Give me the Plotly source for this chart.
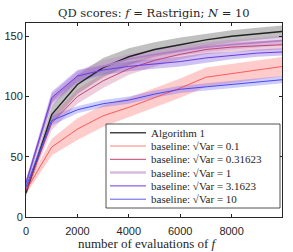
import plotly.graph_objects as go

evals = [0, 1000, 2000, 3000, 4000, 5000, 6000, 7000, 8000, 9000, 10000]

names = ["Algorithm 1",
         "baseline: √Var = 0.1",
         "baseline: √Var = 0.31623",
         "baseline: √Var = 1",
         "baseline: √Var = 3.1623",
         "baseline: √Var = 10"]

alg1 = [20, 85, 110, 124, 133, 139, 143, 147, 150, 152, 154]
var01 = [22, 58, 73, 84, 91, 99, 107, 116, 119, 122, 125]
var03 = [22, 78, 100, 113, 123, 130, 135, 139, 141, 142, 143]
var1 = [28, 97, 116, 125, 131, 135, 138, 141, 143, 145, 146.5]
var3 = [28, 99, 117, 122, 125, 127, 129, 132, 134, 136, 137]
var10 = [25, 80, 89, 94, 97, 102, 106, 108, 110.5, 112, 114]

spread_alg1 = [3, 7, 8, 8, 7, 6, 6, 5, 5, 5, 5]
spread_var01 = [3, 7, 9, 9, 8, 8, 8, 8, 8, 8, 8]
spread_var03 = [3, 6, 6, 6, 5, 5, 4, 4, 4, 4, 4]
spread_var1 = [3, 5, 5, 5, 4, 4, 4, 4, 4, 4, 4]
spread_var3 = [3, 5, 5, 4, 4, 4, 4, 4, 3, 3, 3]
spread_var10 = [3, 4, 3, 3, 3, 3, 3, 3, 3, 3, 3]

means = [alg1, var01, var03, var1, var3, var10]
spreads = [spread_alg1, spread_var01, spread_var03, spread_var1, spread_var3, spread_var10]
line_colors = ["#222222", "#ff4d4d", "#b83a6a", "#b480c8", "#6a3ce0", "#4848f0"]
legend_colors = ["#444444", "#ff8080", "#c04070", "#d8bce0", "#6a3ce0", "#5a5af0"]
band_colors = ["rgba(140,140,140,0.55)", "rgba(255,110,110,0.35)", "rgba(200,90,140,0.3)",
               "rgba(190,130,200,0.35)", "rgba(120,80,220,0.35)", "rgba(90,90,255,0.3)"]
widths = [1.4, 0.9, 0.9, 1.8, 1.0, 1.0]
legend_widths = [1.6, 1.0, 1.0, 2.5, 1.0, 1.0]

fig = go.Figure()
for m, s, bc in zip(means, spreads, band_colors):
    up = [a + b for a, b in zip(m, s)]
    lo = [a - b for a, b in zip(m, s)]
    fig.add_trace(go.Scatter(x=evals + evals[::-1], y=up + lo[::-1], fill="toself",
                             fillcolor=bc, line=dict(width=0), mode="lines",
                             showlegend=False, hoverinfo="skip"))
for m, n, lc, w in zip(means, names, line_colors, widths):
    fig.add_trace(go.Scatter(x=evals, y=m, mode="lines", name=n, showlegend=False,
                             line=dict(color=lc, width=w)))

# plot area in window pixels: x 26..282, y 23..217
W, H, L, B = 256.0, 194.0, 26.0, 217.0
def px_x(p):
    return (p - L) / W
def px_y(p):
    return (B - p) / H

shapes = [dict(type="rect", xref="paper", yref="paper",
               x0=px_x(106), x1=px_x(280), y0=px_y(208), y1=px_y(124),
               line=dict(color="#262626", width=0.8), fillcolor="white", layer="above")]
annotations = []
for i, (n, lc, lw) in enumerate(zip(names, legend_colors, legend_widths)):
    yc = px_y(132.7 + 13.3 * i)
    shapes.append(dict(type="line", xref="paper", yref="paper",
                       x0=px_x(110), x1=px_x(146), y0=yc, y1=yc,
                       line=dict(color=lc, width=lw), layer="above"))
    annotations.append(dict(text=n, xref="paper", yref="paper", x=px_x(149), y=yc,
                            xanchor="left", yanchor="middle", showarrow=False,
                            font=dict(family="Liberation Serif, DejaVu Serif", size=11,
                                      color="#262626")))

serif = "Liberation Serif, DejaVu Serif"
annotations.append(dict(text="number of evaluations of <i>f</i>", xref="paper", yref="paper",
                        x=px_x(148), y=px_y(243), xanchor="center", yanchor="middle",
                        showarrow=False, font=dict(family=serif, size=13, color="#262626")))
annotations.append(dict(text="QD scores: <i>f</i> = Rastrigin; <i>N</i> = 10", xref="paper",
                        yref="paper", x=px_x(153.5), y=px_y(13), xanchor="center",
                        yanchor="middle", showarrow=False,
                        font=dict(family="DejaVu Serif", size=11.5, color="#262626")))

axis_common = dict(showline=True, linecolor="#262626", linewidth=1, mirror="ticks",
                   ticks="inside", ticklen=3, tickcolor="#262626", showgrid=False,
                   zeroline=False, automargin=False,
                   tickfont=dict(family="Liberation Sans, Arial", size=11, color="#262626"))

fig.update_layout(
    template="none",
    width=293, height=252,
    margin=dict(l=26, r=11, t=23, b=35, autoexpand=False),
    paper_bgcolor="white", plot_bgcolor="white",
    xaxis=dict(range=[0, 9960], tickvals=[0, 2000, 4000, 6000, 8000],
               ticklabelstandoff=4, **axis_common),
    yaxis=dict(range=[0, 161], tickvals=[0, 50, 100, 150], **axis_common),
    shapes=shapes,
    annotations=annotations,
    showlegend=False,
)

fig.write_html("out.html", config={"displayModeBar": False},
               post_script="document.body.style.margin='0';document.body.style.overflow='hidden';")
